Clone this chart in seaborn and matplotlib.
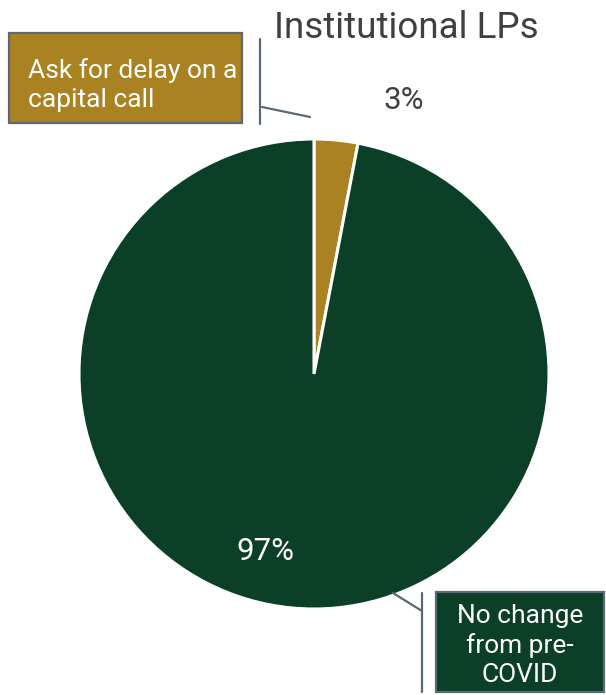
import matplotlib
matplotlib.use("Agg")
import matplotlib.pyplot as plt
from matplotlib.patches import Rectangle
import seaborn as sns

# Survey answers for institutional LPs
categories = ["Ask for delay on a\ncapital call", "No change\nfrom pre-\nCOVID"]
shares = [3, 97]
title = "Institutional LPs"

sns.set_theme(style="white")
plt.rcParams["font.family"] = ["Roboto", "DejaVu Sans"]

gold = "#AB8222"
green = "#0B3F28"
edge_grey = "#5B6977"
text_grey = "#404040"

W, H = 606, 695
fig = plt.figure(figsize=(W / 100, H / 100), dpi=100)
ax = fig.add_axes([0, 0, 1, 1])


def py(y):
    # pixel row measured from the top -> data y
    return H - y


cx, cy, r = 314, 374, 235
ax.pie(
    shares,
    colors=[gold, green],
    startangle=90,
    counterclock=False,
    center=(cx, py(cy)),
    radius=r,
    wedgeprops=dict(edgecolor="white", linewidth=2.2),
    frame=True,
)
ax.set_xlim(0, W)
ax.set_ylim(0, H)
ax.set_aspect("equal")
ax.axis("off")

ax.text(406, py(38), title, ha="center", va="baseline", fontsize=26.5,
        color=text_grey)

# percentage labels
ax.text(404, py(109), f"{shares[0]}%", ha="center", va="baseline",
        fontsize=22.5, color=text_grey)
ax.text(266, py(560), f"{shares[1]}%", ha="center", va="baseline",
        fontsize=22.5, color="white")

# callout boxes (multi-line text anchored on the baseline of its last line)
ax.add_patch(Rectangle((9, py(123)), 233, 90, facecolor=gold,
                       edgecolor=edge_grey, linewidth=1.6, zorder=3))
ax.text(28, py(107), categories[0], ha="left", va="baseline", fontsize=19,
        color="white", linespacing=1.25, zorder=4)

ax.add_patch(Rectangle((436, py(692)), 168, 100, facecolor=green,
                       edgecolor=edge_grey, linewidth=1.6, zorder=3))
ax.text(520, py(682), categories[1], ha="center", va="baseline", fontsize=19,
        color="white", linespacing=1.25, zorder=4)

# leader lines
ax.plot([260, 260], [py(39), py(124)], color=edge_grey, lw=1.6, zorder=3)
ax.plot([262, 310], [py(107), py(117)], color=edge_grey, lw=1.6, zorder=3)
ax.plot([422, 422], [py(593), py(692)], color=edge_grey, lw=1.6, zorder=3)
ax.plot([393, 422], [py(593), py(611)], color=edge_grey, lw=1.6, zorder=3)

fig.savefig("out.png", dpi=100, facecolor="white")
